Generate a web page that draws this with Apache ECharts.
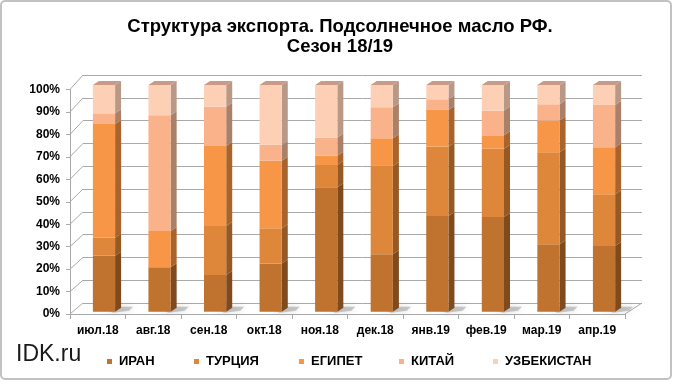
<!DOCTYPE html>
<html>
<head>
<meta charset="utf-8">
<script src="https://cdn.jsdelivr.net/npm/echarts@6/dist/echarts.min.js"></script>
<style>
html,body{margin:0;padding:0;background:#fff;}
#c{width:680px;height:384px;}
</style>
</head>
<body>
<div id="c"></div>
<script>
// ---- data ----
const categories = ['июл.18','авг.18','сен.18','окт.18','ноя.18','дек.18','янв.19','фев.19','мар.19','апр.19'];
const seriesNames = ['ИРАН','ТУРЦИЯ','ЕГИПЕТ','КИТАЙ','УЗБЕКИСТАН'];
const iran    = [24.7, 19.6, 16.2, 21.3, 54.9, 25.3, 42.2, 41.8, 29.7, 29.0];
const turkey  = [ 7.9,  0.0, 21.6, 15.5,  9.8, 39.0, 30.6, 30.1, 40.6, 22.8];
const egypt   = [50.2, 16.0, 35.3, 29.8,  4.1, 12.2, 16.2,  5.9, 14.0, 20.7];
const china   = [ 4.7, 51.1, 17.3,  7.0,  8.0, 13.7,  4.7, 10.9,  7.2, 18.7];
const uzbek   = [12.5, 13.3,  9.6, 26.4, 23.2,  9.8,  6.3, 11.3,  8.5,  8.8];
const yTicks  = [0,10,20,30,40,50,60,70,80,90,100];

// ---- styles ----
const frontColors = ['#c0722f','#de873b','#f79646','#f9b28a','#fdd0b5'];
const sideColors  = ['#7e4a1e','#955926','#a9642d','#a9806a','#b89886'];
const topColor = '#c99a86';
const gridColor = '#a9a9a9';
const legendLefts = [107, 194, 299, 399, 493];
const FONT = '"Liberation Sans", Arial, sans-serif';

const values = [iran, turkey, egypt, china, uzbek];
const chart = echarts.init(document.getElementById('c'), null, {renderer:'canvas'});

// geometry of the 3D box
const FRONT = {l:70, r:625, t:89.5, b:314};
const BACK  = {l:83, r:642, t:75, b:303};
const BAR   = {l:76.2, r:631.8, t:85, b:311.7};
const DX = 6, DY = -4;

const bases = categories.map(() => 0);
const series = values.map((vals, s) => {
  const data = vals.map((v, i) => {
    const lo = bases[i];
    bases[i] += v;
    return [i, lo, lo + v];
  });
  const isTop = s === values.length - 1;
  const isBottom = s === 0;
  return {
    type: 'custom',
    name: seriesNames[s],
    xAxisIndex: 2, yAxisIndex: 2,
    itemStyle: {color: frontColors[s]},
    encode: {x: 0, y: [1, 2]},
    data: data,
    z: 5,
    renderItem: function (params, api) {
      const i = api.value(0), lo = api.value(1), hi = api.value(2);
      const children = [];
      const pLo = api.coord([i, lo]);
      const pHi = api.coord([i, hi]);
      const bw = api.size([1, 0])[0] * 0.4;
      const xl = pLo[0] - bw / 2, xr = pLo[0] + bw / 2;
      if (isBottom) {
        children.push({
          type: 'polygon',
          shape: {points: [[xr - 2, pLo[1] + 1], [xr + 14, pLo[1] - 1], [xr + 18, pLo[1] - 5], [xl + 6, pLo[1] - 5]]},
          style: {fill: 'rgba(140,140,140,0.45)', shadowBlur: 6, shadowColor: 'rgba(120,120,120,0.6)'},
          z2: 0
        });
      }
      if (hi - lo > 0) {
        children.push({
          type: 'polygon',
          shape: {points: [[xr, pHi[1]], [xr + DX, pHi[1] + DY], [xr + DX, pLo[1] + DY], [xr, pLo[1]]]},
          style: {fill: sideColors[s]},
          z2: 1
        });
        children.push({
          type: 'rect',
          shape: {x: xl, y: pHi[1], width: bw, height: pLo[1] - pHi[1]},
          style: {fill: frontColors[s]},
          z2: 2
        });
        if (isTop) {
          children.push({
            type: 'polygon',
            shape: {points: [[xl, pHi[1]], [xl + DX, pHi[1] + DY], [xr + DX, pHi[1] + DY], [xr, pHi[1]]]},
            style: {fill: topColor},
            z2: 3
          });
        }
      }
      return {type: 'group', children: children};
    }
  };
});

// side wall diagonals and floor edge
const graphics = [
  {type:'rect', shape:{x:1, y:1, width:670, height:378, r:4}, style:{fill:'none', stroke:'#c2c2c2', lineWidth:2}, z:0},
  {type:'text', left:16, top:343, style:{text:'IDK.ru', font:'23px ' + FONT, fill:'#1a1a1a'}, z:10},
  {type:'polyline', shape:{points:[[FRONT.r, FRONT.b],[BACK.r, BACK.b]]}, style:{stroke:gridColor, lineWidth:1}, z:1}
];
yTicks.forEach(v => {
  const yf = FRONT.b - (FRONT.b - FRONT.t) * v / 100;
  const yb = BACK.b - (BACK.b - BACK.t) * v / 100;
  graphics.push({type:'line', shape:{x1:FRONT.l, y1:yf, x2:BACK.l, y2:yb}, style:{stroke:gridColor, lineWidth:1}, z:1});
});

const legends = seriesNames.map((n, k) => ({
  left: legendLefts[k], top: 355, padding: 0,
  icon: 'rect', itemWidth: 5, itemHeight: 5,
  textStyle: {fontFamily: FONT, fontSize: 13, fontWeight: 'bold', color: '#000', padding:[0,0,0,2]},
  data: [n]
}));

const option = {
  animation: false,
  backgroundColor: '#ffffff',
  title: {
    text: 'Структура экспорта. Подсолнечное масло РФ.\nСезон 18/19',
    left: 'center', top: 12,
    textStyle: {fontFamily: FONT, fontSize: 18.5, fontWeight: 'bold', color: '#000', lineHeight: 20}
  },
  legend: legends,
  grid: [
    {left: BACK.l, right: 680 - BACK.r, top: BACK.t, bottom: 384 - BACK.b},
    {left: FRONT.l, right: 680 - FRONT.r, top: FRONT.t, bottom: 384 - FRONT.b},
    {left: BAR.l, right: 680 - BAR.r, top: BAR.t, bottom: 384 - BAR.b}
  ],
  xAxis: [
    {gridIndex: 0, type: 'category', data: categories, show: false},
    {gridIndex: 1, type: 'category', data: categories,
      axisLine: {show: true, lineStyle: {color: gridColor, width: 1}},
      axisTick: {show: true, length: 5, lineStyle: {color: gridColor}},
      axisLabel: {margin: 11, color: '#000', fontFamily: FONT, fontSize: 12, fontWeight: 'bold'}},
    {gridIndex: 2, type: 'category', data: categories, show: false}
  ],
  yAxis: [
    {gridIndex: 0, type: 'value', min: 0, max: 100, interval: 10,
      axisLabel: {show: false}, axisLine: {show: false}, axisTick: {show: false},
      splitLine: {show: true, lineStyle: {color: gridColor, width: 1}}},
    {gridIndex: 1, type: 'value', min: 0, max: 100, interval: 10,
      axisLine: {show: true, lineStyle: {color: gridColor, width: 1}},
      axisTick: {show: true, length: 4, lineStyle: {color: gridColor}},
      splitLine: {show: false},
      axisLabel: {formatter: '{value}%', margin: 10, color: '#000', fontFamily: FONT, fontSize: 12, fontWeight: 'bold'}},
    {gridIndex: 2, type: 'value', min: 0, max: 100, interval: 10, show: false, splitLine: {show: false}}
  ],
  graphic: graphics,
  series: series
};
chart.setOption(option);
</script>
</body>
</html>
